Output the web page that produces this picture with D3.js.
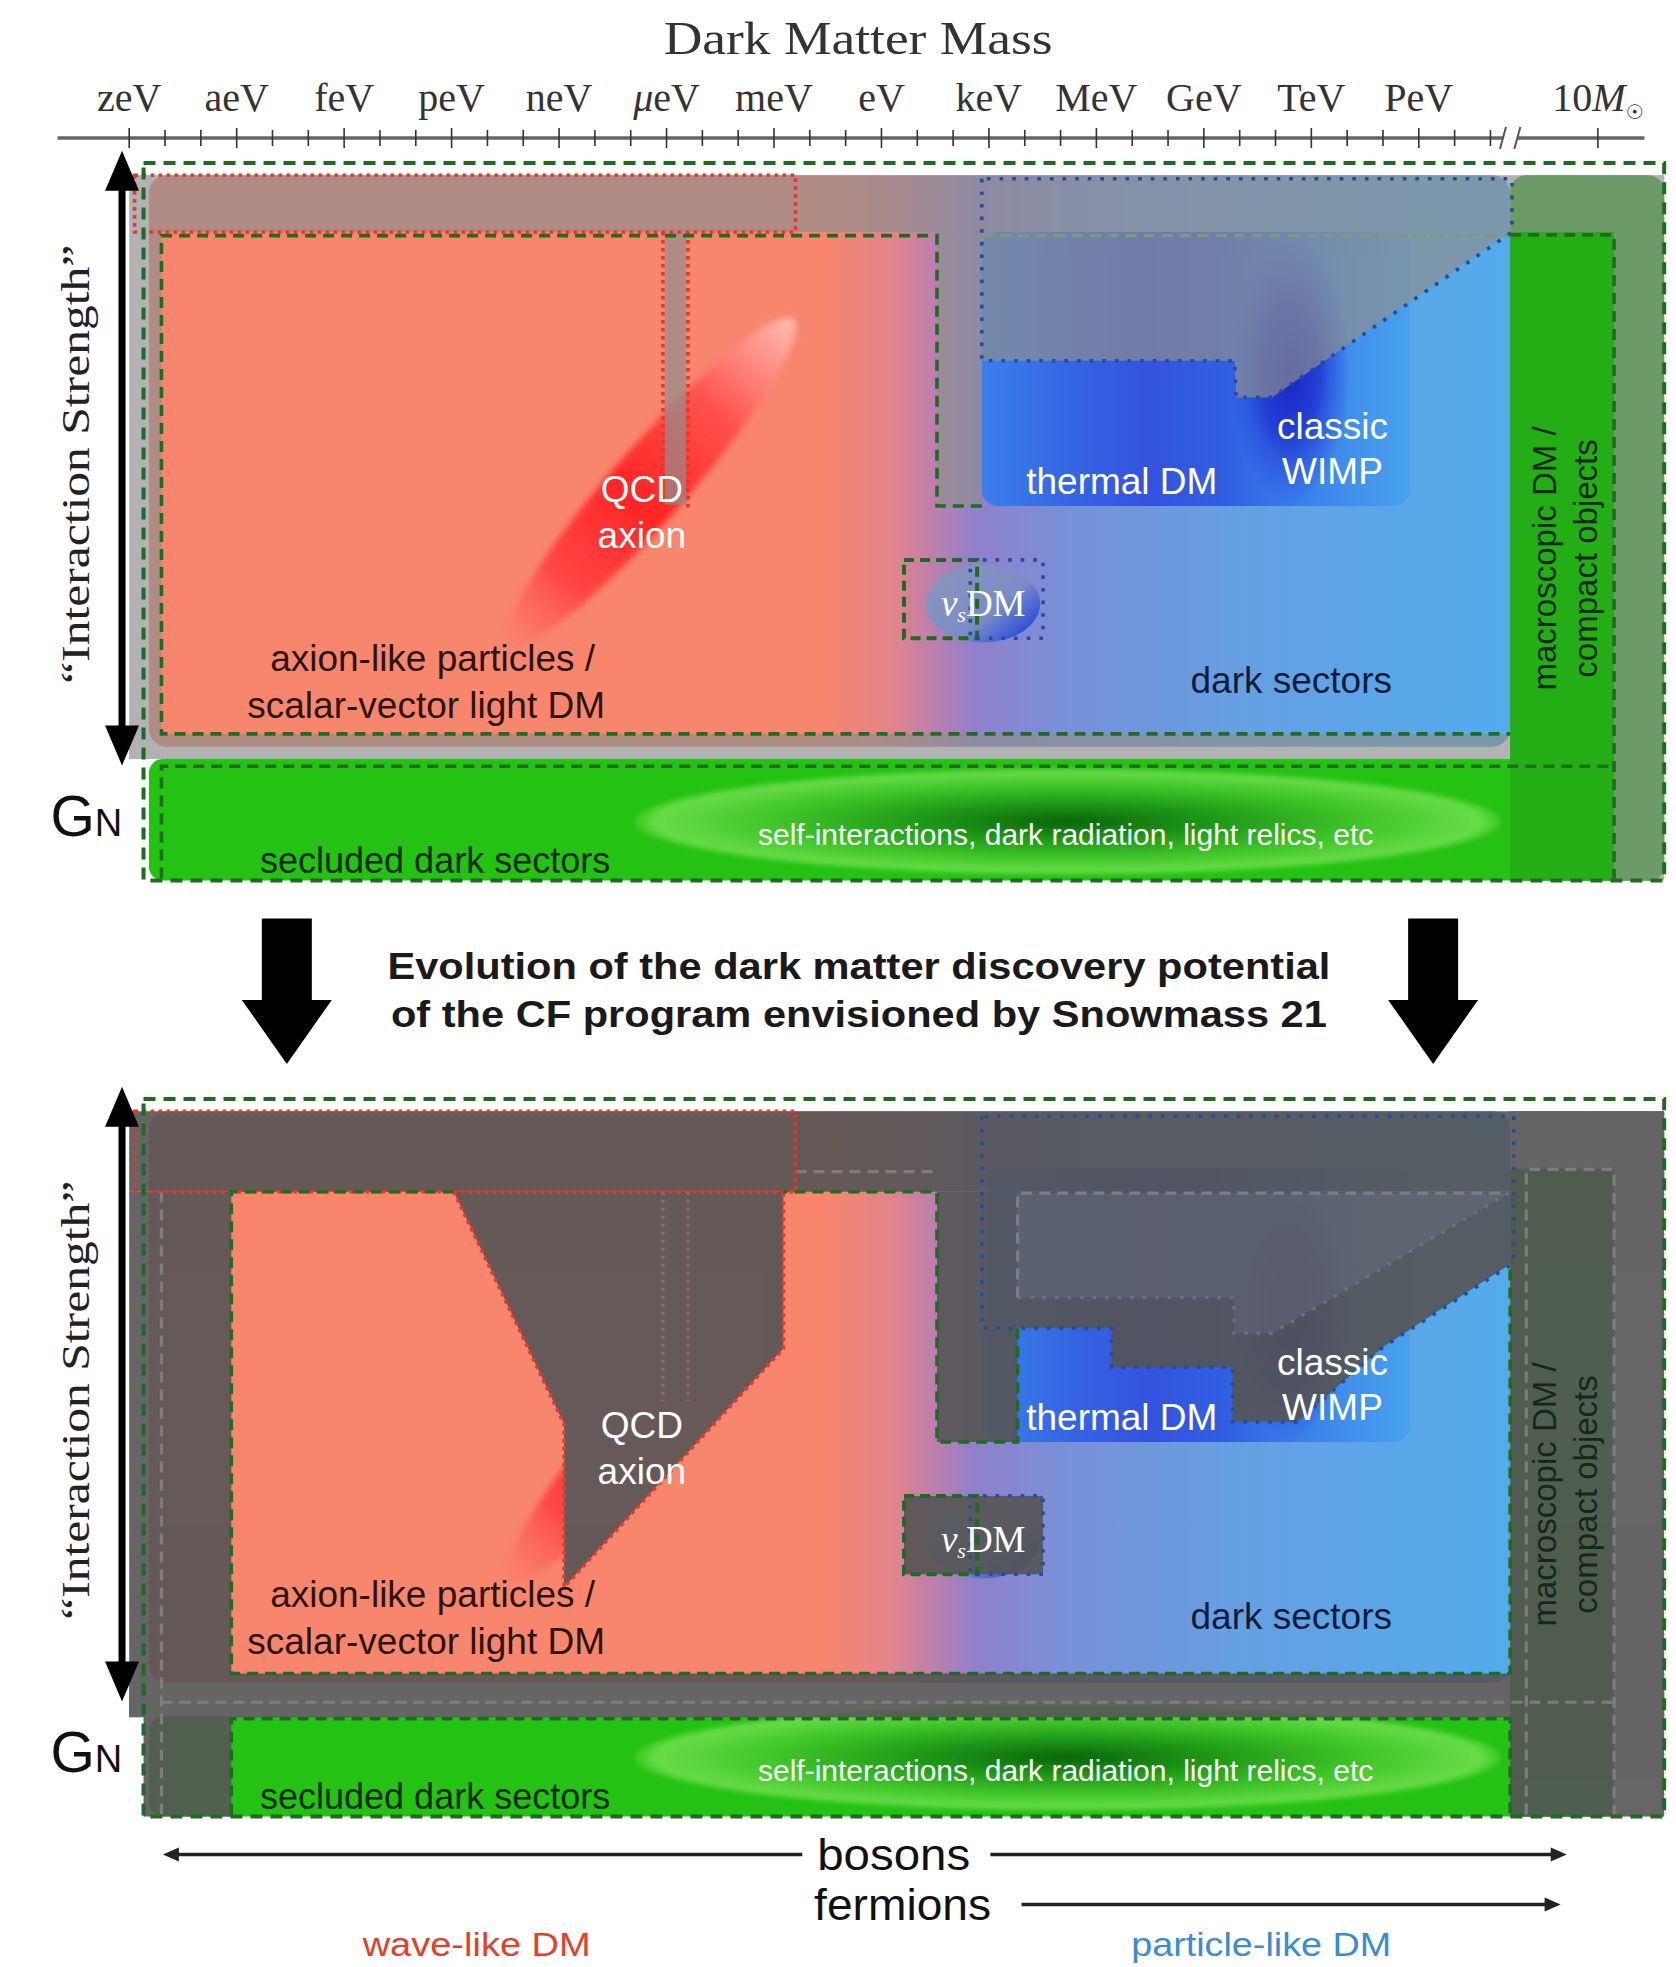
<!DOCTYPE html>
<html><head><meta charset="utf-8">
<script src="https://cdn.jsdelivr.net/npm/d3@7/dist/d3.min.js"></script>
<style>html,body{margin:0;padding:0;background:#fff;} svg{display:block;}</style>
</head><body>
<svg id="chart" width="1676" height="1967"></svg>
<script>
// ================= DATA =================
// mass axis (log10 of mass in eV)
const massLabels = ["zeV","aeV","feV","peV","neV","μeV","meV","eV","keV","MeV","GeV","TeV","PeV"];
const massLog10  = [-21,-18,-15,-12,-9,-6,-3,0,3,6,9,12,15];
const decadeTicks = [-21,-20,-19,-18,-17,-16,-15,-14,-13,-12,-11,-10,-9,-8,-7,-6,-5,-4,-3,-2,-1,0,1,2,3,4,5,6,7,8,9,10,11,12,13,14,15,16,17];
const solarTickPos = 20;          // "10 M_sun" tick, after the axis break
const axisBreakPos = 17.55;
const axisSpan = [-23.0, 21.3];

// regions: [log10 m from, log10 m to, strength from, strength to]  (strength 0 = G_N .. 100 = top)
const outerFrame      = [-20.6, 21.85, 0.2, 100];
const colouredRegion  = [-20.45, 17.55, 18.8, 98.3];
const thermalRegion   = [2.8, 14.75, 52.3, 90.4];
const wimpBlob        = [11.4, 71.0, 1.7, 18.5];      // cx, cy, rx, ry
const nusBlob         = [2.83, 38.7, 1.6, 5.4];
const nusDashedBox    = [0.63, 2.67, 33.9, 44.8];
const nusDottedBox    = [2.48, 4.51, 33.9, 44.8];
const seclBlob        = [5.2, 8.4, 12.1, 7.4];
const qcdBandEnds     = [[-10.4, 33.0], [-2.46, 78.2]];
const macroColumn     = [17.55, 20.45, 0.2, 90.3];

// present-day panel
const currentGreenBase   = [-20.45, 21.85, 0.2, 17.1];
const currentRightBase   = [17.55, 21.85, 0.2, 98.3];
const currentExcludedRects = [
  [-21.0, 21.85, 90.4, 98.3],
  [-21.0, -20.1, 17.1, 90.4],
  [-21.0, 17.55, 17.1, 20.6],
  [20.45, 21.85, 0.2, 98.3],
  [1.55, 2.8, 52.3, 90.4],
  [-6.05, -5.45, 52.5, 90.4]
];
const currentExcludedPolys = [
  [[2.8,90.4],[2.8,72.5],[9.86,72.5],[9.9,67.4],[10.9,67.4],[17.55,90.4]]
];
const currentRedBox = [-20.85, -2.4, 90.4, 98.3];
const currentQcdLines = [[-6.1, 90.4, 52.0], [-5.4, 90.4, 52.0]];
const currentBlueDotted = [[2.8,97.8],[2.8,72.5],[9.86,72.5],[9.9,67.4],[10.9,67.4],[17.6,90.4],[17.6,97.8],[2.8,97.8]];
const currentGreenDashed = [
  [[2.8,52.3],[1.55,52.3],[1.55,89.9],[-20.1,89.9],[-20.1,20.6],[17.55,20.6]],
  [[17.55,90.0],[20.45,90.0],[20.45,0.5]],
  [[-20.1,0.5],[-20.1,16.1],[20.45,16.1]]
];
const currentFadedDashed = [ [[2.8,89.9],[17.55,89.9]] ];

// future (Snowmass) panel
const futureGreenBase   = [-20.45, 20.45, 0.2, 14.1];
const futureExcludedRects = [
  [-21.0, 21.85, 87.1, 98.3],
  [-21.0, -18.15, 14.1, 87.1],
  [-20.6, -18.15, 0.2, 14.1],
  [-21.0, 21.85, 14.0, 20.1],
  [17.55, 21.85, 0.2, 98.3],
  [1.55, 3.8, 52.3, 87.1],
  [0.63, 4.51, 33.9, 44.8]
];
const futureExcludedPolys = [
  [[-11.94,87.1],[-8.86,54.8],[-8.86,32.1],[-2.74,65.3],[-2.74,87.1]],
  [[3.8,87.1],[3.8,68.1],[6.42,68.1],[6.42,62.7],[9.8,62.7],[9.8,55.1],[11.6,55.1],[14.0,65.5],[17.6,77.2],[17.6,87.1]]
];
const futureOldExclusion = [[3.8,86.9],[3.8,72.4],[9.84,72.4],[9.84,67.4],[10.9,67.4],[17.5,86.9]];
const futureRedBox = [-20.85, -2.4, 87.1, 98.3];
const futureQcdLines = [[-6.1, 87.1, 58], [-5.4, 87.1, 58]];
const futureQcdRedDotted = [[-11.94,87.1],[-8.86,54.8],[-8.86,32.1],[-2.74,65.3],[-2.74,87.1]];
const futureBlueDotted = [[2.8,97.6],[2.8,68.1],[6.42,68.1],[6.42,62.7],[9.8,62.7],[9.8,55.1],[11.6,55.1],[14.0,65.5],[17.65,77.2],[17.65,97.6],[2.8,97.6]];
const futureGreenDashed = [
  [[3.8,68.1],[3.8,52.3],[1.55,52.3],[1.55,87.1],[-2.74,87.1]],
  [[-11.94,87.1],[-18.15,87.1],[-18.15,20.1],[17.55,20.1],[17.55,77.2]],
  [[-18.15,0.5],[-18.15,13.8],[17.55,13.8],[17.55,0.5]]
];
const futureFadedDashed = [
  [[-20.1,0.5],[-20.1,87.1]],
  [[-20.1,16.1],[20.45,16.1]],
  [[-2.4,89.9],[1.55,89.9]],
  [[3.8,72.4],[3.8,86.9],[17.5,86.9]],
  [[18.0,0.5],[18.0,90.2],[20.45,90.2],[20.45,0.5]]
];

// labels inside each panel: text, [log10 m, strength], colour, size, rotate
const panelLabels = [
  ["QCD", [-6.69, 54.6], "#ffffff", 37, 0],
  ["axion", [-6.69, 48.2], "#ffffff", 37, 0],
  ["axion-like particles /", [-12.53, 31.1], "#2b1414", 37, 0],
  ["scalar-vector light DM", [-12.71, 24.6], "#2b1414", 37, 0],
  ["thermal DM", [6.71, 55.8], "#ffffff", 37, 0],
  ["classic", [12.59, 63.4], "#ffffff", 37, 0],
  ["WIMP", [12.59, 57.1], "#ffffff", 37, 0],
  ["dark sectors", [11.44, 28.1], "#101c3a", 37, 0],
  ["macroscopic DM /", [18.5, 45.0], "#14281a", 33, -90],
  ["compact objects", [19.66, 45.0], "#14281a", 33, -90],
  ["secluded dark sectors", [-12.46, 3.0], "#0d2a0d", 36, 0],
  ["self-interactions, dark radiation, light relics, etc", [5.14, 6.6], "#ffffff", 30, 0]
];
const nusLabelPos = [2.84, 38.8];

const titleText = "Dark Matter Mass";
const strengthLabel = "“Interaction Strength”";
const strengthArrow = [16.2, 101.7];
const captionLines = ["Evolution of the dark matter discovery potential", "of the CF program envisioned by Snowmass 21"];
const transitionArrowPos = [-16.6, 15.4];
const bosonArrows = [[-2.21, -20.06], [3.04, 19.13]];   // from, to
const fermionArrow = [3.91, 18.96];
const footerLabels = [["wave-like DM", -11.3, "#e3402c", 228], ["particle-like DM", 10.6, "#3b8bd2", 260]];

// ================= DRAWING =================
const svg = d3.select("#chart");
const defs = svg.append("defs");
const x = d3.scaleLinear().domain([-21, 15]).range([129.2, 1418.8]);
const yCurrent = d3.scaleLinear().domain([0, 100]).range([882, 163]);
const yFuture  = d3.scaleLinear().domain([0, 100]).range([1818, 1099]);
const SANS = "'Liberation Sans', Arial, Helvetica, sans-serif";
const SERIF = "'Liberation Serif', 'Times New Roman', serif";

function linGrad(id, stops, userSpace, x1, x2, y1, y2) {
  const g = defs.append("linearGradient").attr("id", id);
  if (userSpace) g.attr("gradientUnits", "userSpaceOnUse").attr("x1", x1).attr("x2", x2).attr("y1", y1 || 0).attr("y2", y2 || 0);
  else g.attr("x1", x1).attr("x2", x2).attr("y1", y1).attr("y2", y2);
  stops.forEach(s => g.append("stop").attr("offset", s[0]).attr("stop-color", s[1]).attr("stop-opacity", s[2] == null ? 1 : s[2]));
}
function radGrad(id, stops) {
  const g = defs.append("radialGradient").attr("id", id).attr("cx", 0.5).attr("cy", 0.5).attr("r", 0.5);
  stops.forEach(s => g.append("stop").attr("offset", s[0]).attr("stop-color", s[1]).attr("stop-opacity", s[2] == null ? 1 : s[2]));
}
const rampStops = [[-1.6,"#f7866d"],[0.3,"#e2848a"],[1.5,"#bb80ae"],[2.6,"#9080cb"],[5,"#7990d8"],[10,"#65a0e2"],[17.5,"#52acec"]];
const rx0 = x(-1.6), rx1 = x(17.5);
linGrad("ramp", rampStops.map(s => [(x(s[0]) - rx0) / (rx1 - rx0), s[1]]), true, rx0, rx1);
const thermStops = [[2.8,"#3a7fea"],[5,"#3668e4"],[7.5,"#3352df"],[9.6,"#3060e2"],[12,"#3a84ea"],[14.75,"#48a2ee"]];
const tx0 = x(2.8), tx1 = x(14.75);
linGrad("thermal", thermStops.map(s => [(x(s[0]) - tx0) / (tx1 - tx0), s[1]]), true, tx0, tx1);
radGrad("wimp", [[0,"#1822c6",1],[0.5,"#2036d2",0.85],[0.85,"#2a50e0",0.35],[1,"#2a50e0",0]]);
linGrad("nus", [[0,"#8a96bc"],[0.55,"#7a8cc6"],[0.8,"#3a5ad6"],[1,"#1246e0"]], false, 0, 1, 0.2, 1);
radGrad("secl", [[0,"#0a650a"],[0.35,"#1f9a17"],[0.7,"#42c82a"],[0.95,"#68dc48"],[1,"#68dc48",0.3]]);
linGrad("qcd", [[0,"#ff7a66",0.4],[0.2,"#ff4040",0.92],[0.45,"#ff2424",1],[0.72,"#ff4c48",0.92],[1,"#ffc4bc",0.85]], false, 0, 1, 0, 0);
defs.append("filter").attr("id", "soft").attr("x", "-20%").attr("y", "-20%").attr("width", "140%").attr("height", "140%")
  .append("feGaussianBlur").attr("stdDeviation", 3);
defs.append("filter").attr("id", "soft2").attr("x", "-20%").attr("y", "-20%").attr("width", "140%").attr("height", "140%")
  .append("feGaussianBlur").attr("stdDeviation", 2);

function addRect(g, r, y, rx) {
  return g.append("rect").attr("x", x(r[0])).attr("y", y(r[3]))
    .attr("width", x(r[1]) - x(r[0])).attr("height", y(r[2]) - y(r[3])).attr("rx", rx || 0);
}
function addEllipse(g, e, y) {
  return g.append("ellipse").attr("cx", x(e[0])).attr("cy", y(e[1]))
    .attr("rx", x(e[0] + e[2]) - x(e[0])).attr("ry", y(e[1] - e[3]) - y(e[1]));
}
function pathOf(y) { return d3.line().x(d => x(d[0])).y(d => y(d[1])); }

const GREEN_DASH = {stroke: "#1f6b1f", w: 3.6, dash: "11 7"};

function drawPanel(y, cfg) {
  const g = svg.append("g");
  const line = pathOf(y);
  // base colours
  addRect(g, cfg.greenBase, y, 14).attr("fill", "#24c212");
  if (cfg.rightBase) addRect(g, cfg.rightBase, y, 16).attr("fill", "#24b414");
  addRect(g, macroColumn, y, 0).attr("fill", "#22ae14");
  addRect(g, colouredRegion, y, 18).attr("fill", "url(#ramp)");
  addRect(g, thermalRegion, y, 16).attr("fill", "url(#thermal)");
  addEllipse(g, wimpBlob, y).attr("fill", "url(#wimp)");
  addEllipse(g, seclBlob, y).attr("fill", "url(#secl)").attr("filter", "url(#soft2)");
  addEllipse(g, nusBlob, y).attr("fill", "url(#nus)");
  // QCD axion band
  const p1 = [x(qcdBandEnds[0][0]), y(qcdBandEnds[0][1])], p2 = [x(qcdBandEnds[1][0]), y(qcdBandEnds[1][1])];
  const cx = (p1[0] + p2[0]) / 2, cy = (p1[1] + p2[1]) / 2;
  const len = Math.hypot(p2[0] - p1[0], p2[1] - p1[1]);
  const ang = Math.atan2(p2[1] - p1[1], p2[0] - p1[0]) * 180 / Math.PI;
  let qg = g.append("g");
  if (cfg.qcdClip) {
    const cid = "clip" + cfg.id;
    defs.append("clipPath").attr("id", cid).append("rect")
      .attr("x", x(cfg.qcdClip[0])).attr("y", y(cfg.qcdClip[3]))
      .attr("width", x(cfg.qcdClip[1]) - x(cfg.qcdClip[0])).attr("height", y(cfg.qcdClip[2]) - y(cfg.qcdClip[3]));
    qg.attr("clip-path", `url(#${cid})`);
  }
  qg.append("ellipse").attr("cx", 0).attr("cy", 0).attr("rx", len / 2).attr("ry", 37)
    .attr("transform", `translate(${cx},${cy}) rotate(${ang})`)
    .attr("fill", "url(#qcd)").attr("filter", "url(#soft)");
  // excluded regions (grey overlay), drawn as one union
  const ov = g.append("g").attr("opacity", cfg.ovOpacity).attr("fill", cfg.ovColour);
  cfg.exRects.forEach(r => addRect(ov, r, y, 0));
  cfg.exPolys.forEach(p => ov.append("path").attr("d", line(p) + "Z"));
  if (cfg.oldEx) {
    g.append("path").attr("d", line(cfg.oldEx) + "Z").attr("fill", "#9aa6c4").attr("opacity", 0.14);
    g.append("path").attr("d", line(cfg.oldEx.slice(1))).attr("fill", "none")
      .attr("stroke", "#6c7284").attr("stroke-width", 3.2).attr("stroke-dasharray", "3.5 9");
  }
  // faded dashed
  cfg.faded.forEach(p => g.append("path").attr("d", line(p)).attr("fill", "none")
    .attr("stroke", cfg.fadedColour).attr("stroke-width", 3.2).attr("stroke-dasharray", "11 7"));
  // red dotted
  const red = {stroke: "#e5372a", "stroke-width": 3.6, "stroke-dasharray": "3.6 4.4", fill: "none"};
  const rb = addRect(g, cfg.redBox, y, 0);
  Object.entries(red).forEach(([k, v]) => rb.attr(k, v));
  cfg.qcdLines.forEach(l => {
    const e = g.append("path").attr("d", line([[l[0], l[1]], [l[0], l[2]]]));
    Object.entries(red).forEach(([k, v]) => e.attr(k, v));
    e.attr("stroke", cfg.qcdLineColour);
  });
  if (cfg.qcdPoly) {
    const e = g.append("path").attr("d", line(cfg.qcdPoly));
    Object.entries(red).forEach(([k, v]) => e.attr(k, v));
  }
  // blue dotted
  g.append("path").attr("d", line(cfg.blue)).attr("fill", "none").attr("stroke", "#1d4f9c")
    .attr("stroke-width", 3.6).attr("stroke-dasharray", "3.6 9");
  // green dashed
  cfg.green.forEach(p => g.append("path").attr("d", line(p)).attr("fill", "none")
    .attr("stroke", GREEN_DASH.stroke).attr("stroke-width", GREEN_DASH.w).attr("stroke-dasharray", GREEN_DASH.dash));
  // nu_s boxes
  addRect(g, nusDashedBox, y, 0).attr("fill", "none").attr("stroke", GREEN_DASH.stroke)
    .attr("stroke-width", 4).attr("stroke-dasharray", "10 6");
  addRect(g, nusDottedBox, y, 0).attr("fill", "none").attr("stroke", "#1d4f9c")
    .attr("stroke-width", 3.6).attr("stroke-dasharray", "3.6 9");
  // outer frame
  addRect(g, outerFrame, y, 0).attr("fill", "none").attr("stroke", "#1f6b1f")
    .attr("stroke-width", 4).attr("stroke-dasharray", "12 8");
  // labels
  panelLabels.forEach(l => {
    const t = g.append("text").attr("font-family", SANS).attr("font-size", l[3]).attr("fill", l[2])
      .attr("text-anchor", "middle").attr("dy", "0.35em");
    if (l[4]) t.attr("transform", `translate(${x(l[1][0])},${y(l[1][1])}) rotate(${l[4]})`);
    else t.attr("x", x(l[1][0])).attr("y", y(l[1][1]));
    t.text(l[0]);
  });
  const nt = g.append("text").attr("x", x(nusLabelPos[0])).attr("y", y(nusLabelPos[1])).attr("dy", "0.35em")
    .attr("text-anchor", "middle").attr("font-family", SERIF).attr("font-size", 37).attr("fill", "#ffffff");
  nt.append("tspan").attr("font-style", "italic").text("ν");
  nt.append("tspan").attr("font-style", "italic").attr("font-size", 22).attr("dy", 6).text("s");
  nt.append("tspan").attr("dy", -6).text("DM");
  // interaction-strength arrow
  const ax = x(-21.2), yt = y(strengthArrow[1]), yb = y(strengthArrow[0]);
  g.append("line").attr("x1", ax).attr("x2", ax).attr("y1", yt + 30).attr("y2", yb - 30)
    .attr("stroke", "#000").attr("stroke-width", 7);
  g.append("path").attr("d", `M${ax},${yt} L${ax - 17},${yt + 40} L${ax + 17},${yt + 40} Z`).attr("fill", "#000");
  g.append("path").attr("d", `M${ax},${yb} L${ax - 17},${yb - 40} L${ax + 17},${yb - 40} Z`).attr("fill", "#000");
  g.append("text").attr("transform", `translate(${x(-22.51)},${y(58.1)}) rotate(-90)`)
    .attr("text-anchor", "middle").attr("dy", "0.35em").attr("font-family", SERIF).attr("font-size", 40)
    .attr("fill", "#222").attr("textLength", 439).attr("lengthAdjust", "spacingAndGlyphs").text(strengthLabel);
  const gn = g.append("text").attr("x", x(-23.2)).attr("y", y(6.46)).attr("font-family", SANS).attr("fill", "#111");
  gn.append("tspan").attr("font-size", 57).text("G");
  gn.append("tspan").attr("font-size", 38).text("N");
}

drawPanel(yCurrent, {
  id: "cur", greenBase: currentGreenBase, rightBase: currentRightBase,
  ovColour: "#8f8f8f", ovOpacity: 0.68,
  exRects: currentExcludedRects, exPolys: currentExcludedPolys,
  faded: currentFadedDashed, fadedColour: "#7c9a7c",
  redBox: currentRedBox, qcdLines: currentQcdLines, qcdLineColour: "#e5372a",
  blue: currentBlueDotted, green: currentGreenDashed
});
drawPanel(yFuture, {
  id: "fut", greenBase: futureGreenBase, rightBase: null,
  ovColour: "#555555", ovOpacity: 0.9, oldEx: futureOldExclusion,
  exRects: futureExcludedRects, exPolys: futureExcludedPolys,
  faded: futureFadedDashed, fadedColour: "#7d7d7d",
  redBox: futureRedBox, qcdLines: futureQcdLines, qcdLineColour: "#8c6a66",
  qcdPoly: futureQcdRedDotted, qcdClip: [-12.5, -8.86, 20, 60],
  blue: futureBlueDotted, green: futureGreenDashed
});

// ---------- mass axis ----------
const axisY = 138;
const axG = svg.append("g");
axG.append("line").attr("x1", x(axisSpan[0])).attr("x2", x(axisBreakPos - 0.2)).attr("y1", axisY).attr("y2", axisY)
  .attr("stroke", "#666").attr("stroke-width", 3.5);
axG.append("line").attr("x1", x(axisBreakPos + 0.2)).attr("x2", x(axisSpan[1])).attr("y1", axisY).attr("y2", axisY)
  .attr("stroke", "#666").attr("stroke-width", 3.5);
[axisBreakPos - 0.2, axisBreakPos + 0.2].forEach(b => axG.append("line")
  .attr("x1", x(b) - 3).attr("x2", x(b) + 3).attr("y1", axisY + 11).attr("y2", axisY - 11)
  .attr("stroke", "#555").attr("stroke-width", 2));
decadeTicks.concat([solarTickPos]).forEach(t => {
  const major = massLog10.includes(t) || t === solarTickPos;
  axG.append("line").attr("x1", x(t)).attr("x2", x(t)).attr("y1", axisY - (major ? 10 : 8)).attr("y2", axisY + (major ? 10 : 8))
    .attr("stroke", "#333").attr("stroke-width", 1.6);
});
massLabels.forEach((lab, i) => {
  const t = axG.append("text").attr("x", x(massLog10[i])).attr("y", 111).attr("text-anchor", "middle")
    .attr("font-family", SERIF).attr("font-size", 40).attr("fill", "#333");
  if (lab.startsWith("μ")) { t.append("tspan").attr("font-style", "italic").text("μ"); t.append("tspan").text(lab.slice(1)); }
  else t.text(lab);
});
const st = axG.append("text").attr("x", x(solarTickPos)).attr("y", 111).attr("text-anchor", "middle")
  .attr("font-family", SERIF).attr("font-size", 40).attr("fill", "#333");
st.append("tspan").text("10");
st.append("tspan").attr("font-style", "italic").text("M");
st.append("tspan").attr("font-family", "'DejaVu Sans', sans-serif").attr("font-size", 20).attr("dy", 8).text("☉");
svg.append("text").attr("x", x(-0.65)).attr("y", 54).attr("text-anchor", "middle").attr("font-family", SERIF)
  .attr("font-size", 46).attr("fill", "#333").attr("textLength", 389).attr("lengthAdjust", "spacingAndGlyphs").text(titleText);

// ---------- transition ----------
transitionArrowPos.forEach(p => {
  const cx = x(p), y0 = yCurrent(-5.06), y1 = yCurrent(-16.4), y2 = yCurrent(-25.3);
  svg.append("path").attr("d", `M${cx - 25},${y0} L${cx + 25},${y0} L${cx + 25},${y1} L${cx + 45},${y1} L${cx},${y2} L${cx - 45},${y1} L${cx - 25},${y1} Z`)
    .attr("fill", "#000");
});
captionLines.forEach((c, i) => {
  svg.append("text").attr("x", x(-0.63)).attr("y", yCurrent(i === 0 ? -11.7 : -18.3)).attr("dy", "0.35em")
    .attr("text-anchor", "middle").attr("font-family", SANS).attr("font-weight", "bold").attr("font-size", 37)
    .attr("fill", "#1a1a1a").attr("textLength", i === 0 ? 943 : 936).attr("lengthAdjust", "spacingAndGlyphs").text(c);
});

// ---------- bosons / fermions ----------
function hArrow(a, b, yy) {
  const dir = Math.sign(b - a);
  const xa = x(a), xb = x(b);
  svg.append("line").attr("x1", xa).attr("x2", xb - dir * 10).attr("y1", yy).attr("y2", yy).attr("stroke", "#222").attr("stroke-width", 3.5);
  svg.append("path").attr("d", `M${xb},${yy} L${xb - dir * 16},${yy - 7} L${xb - dir * 16},${yy + 7} Z`).attr("fill", "#222");
}
const yB = yFuture(-5.06), yF = yFuture(-12.04);
bosonArrows.forEach(a => hArrow(a[0], a[1], yB));
hArrow(fermionArrow[0], fermionArrow[1], yF);
svg.append("text").attr("x", x(0.34)).attr("y", yB).attr("dy", "0.35em").attr("text-anchor", "middle")
  .attr("font-family", SANS).attr("font-size", 44).attr("fill", "#111").attr("textLength", 153).attr("lengthAdjust", "spacingAndGlyphs").text("bosons");
svg.append("text").attr("x", x(0.59)).attr("y", yF).attr("dy", "0.35em").attr("text-anchor", "middle")
  .attr("font-family", SANS).attr("font-size", 44).attr("fill", "#111").attr("textLength", 177).attr("lengthAdjust", "spacingAndGlyphs").text("fermions");
footerLabels.forEach(f => {
  svg.append("text").attr("x", x(f[1])).attr("y", yFuture(-17.6)).attr("dy", "0.35em").attr("text-anchor", "middle")
    .attr("font-family", SANS).attr("font-size", 33).attr("fill", f[2]).attr("textLength", f[3])
    .attr("lengthAdjust", "spacingAndGlyphs").text(f[0]);
});
</script>
</body></html>
